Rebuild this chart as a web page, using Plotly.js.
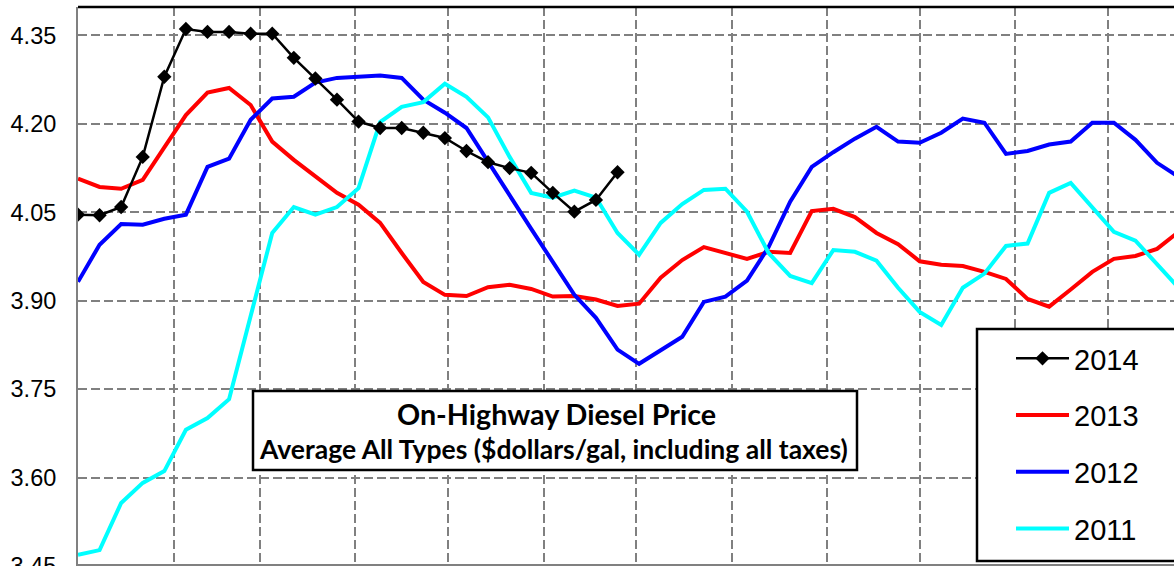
<!DOCTYPE html>
<html>
<head>
<meta charset="utf-8">
<script src="https://cdn.plot.ly/plotly-3.0.1.min.js"></script>
<style>
  html, body { margin: 0; padding: 0; background: #fff; overflow: hidden; }
  #chart { width: 1174px; height: 580px; }
</style>
</head>
<body>
<div id="chart"></div>
<script>
// ---- data (weekly averages, $ per gallon) ----
const seriesNames = ["2014", "2013", "2012", "2011"];
const startDate = "2014-01-01";   // common calendar year used for week positions

const y2014 = [4.046, 4.045, 4.059, 4.144, 4.280, 4.361, 4.356, 4.356, 4.353, 4.353,
               4.312, 4.277, 4.241, 4.204, 4.193, 4.193, 4.185, 4.176, 4.154, 4.135,
               4.125, 4.117, 4.083, 4.051, 4.071, 4.118];

const y2013 = [4.107, 4.093, 4.090, 4.105, 4.160, 4.215, 4.253, 4.261, 4.232, 4.170,
               4.139, 4.110, 4.083, 4.063, 4.032, 3.981, 3.932, 3.910, 3.908, 3.923,
               3.927, 3.920, 3.907, 3.908, 3.902, 3.891, 3.895, 3.939, 3.969, 3.991,
               3.981, 3.971, 3.983, 3.981, 4.052, 4.056, 4.042, 4.015, 3.996, 3.967,
               3.961, 3.959, 3.949, 3.937, 3.903, 3.890, 3.919, 3.949, 3.971, 3.976,
               3.988, 4.017];

const y2012 = [3.932, 3.995, 4.030, 4.029, 4.039, 4.046, 4.127, 4.141, 4.207, 4.243,
               4.246, 4.270, 4.278, 4.280, 4.282, 4.278, 4.241, 4.219, 4.193, 4.136,
               4.078, 4.022, 3.966, 3.910, 3.871, 3.817, 3.793, 3.817, 3.839, 3.898,
               3.907, 3.934, 3.991, 4.068, 4.127, 4.152, 4.175, 4.195, 4.170, 4.168,
               4.185, 4.209, 4.202, 4.149, 4.154, 4.165, 4.170, 4.202, 4.202, 4.173,
               4.134, 4.110];

const y2011 = [3.469, 3.477, 3.557, 3.591, 3.611, 3.681, 3.701, 3.733, 3.874, 4.015,
               4.059, 4.046, 4.059, 4.091, 4.203, 4.229, 4.237, 4.268, 4.246, 4.211,
               4.144, 4.083, 4.075, 4.087, 4.075, 4.015, 3.978, 4.032, 4.064, 4.088,
               4.090, 4.051, 3.981, 3.942, 3.930, 3.986, 3.983, 3.968, 3.922, 3.881,
               3.859, 3.922, 3.946, 3.993, 3.997, 4.083, 4.100, 4.059, 4.017, 4.002,
               3.961, 3.922];

const yTicks = [3.45, 3.60, 3.75, 3.90, 4.05, 4.20, 4.35];
const titleLine1 = "On-Highway Diesel Price";
const titleLine2 = "Average All Types ($dollars/gal, including all taxes)";

// week dates (one point per week from the start of the year)
function weekDates(n) {
  const out = [];
  const base = new Date(startDate + "T00:00:00Z");
  for (let i = 0; i < n; i++) {
    const d = new Date(base.getTime() + i * 7 * 86400000);
    out.push(d.toISOString().slice(0, 10));
  }
  return out;
}

// ---- layout geometry (figure is slightly taller than the window; bottom is cropped) ----
const W = 1174, H = 580;
const M = { l: 78, r: 0, t: 7, b: 12 };
const PW = W - M.l - M.r, PH = H - M.t - M.b;
const px = x => (x - M.l) / PW;          // pixel -> paper x
const py = y => (H - M.b - y) / PH;      // pixel -> paper y

const colors = { "2014": "#000000", "2013": "#FF0000", "2012": "#0000FF", "2011": "#00FFFF" };
const dataMap = { "2014": y2014, "2013": y2013, "2012": y2012, "2011": y2011 };
const rank = { "2014": 1, "2013": 2, "2012": 3, "2011": 4 };
const drawOrder = ["2013", "2012", "2011", "2014"];

const traces = drawOrder.map(name => {
  const ys = dataMap[name];
  const t = {
    type: "scatter",
    mode: name === "2014" ? "lines+markers" : "lines",
    name: name,
    x: weekDates(ys.length),
    y: ys,
    line: { color: colors[name], width: name === "2014" ? 2.5 : 4 },
    legendrank: rank[name],
    legendgroup: name,
    hoverinfo: "x+y+name"
  };
  if (name === "2014") t.marker = { symbol: "diamond", size: 11, color: "#000" };
  return t;
});

const gridStyle = { gridcolor: "#808080", gridwidth: 2, griddash: "9px,4px" };

const layout = {
  width: W, height: H,
  margin: M,
  paper_bgcolor: "#fff",
  plot_bgcolor: "#fff",
  showlegend: true,
  xaxis: Object.assign({
    type: "date",
    range: ["2014-01-01", "2014-12-22 12:00"],
    tick0: "2014-01-01",
    dtick: "M1",
    showticklabels: false,
    ticks: "",
    showgrid: true,
    zeroline: false,
    showline: true,
    linecolor: "#808080",
    linewidth: 2,
    fixedrange: true
  }, gridStyle),
  yaxis: Object.assign({
    range: [3.4466, 4.3983],
    tickvals: yTicks,
    tickformat: ".2f",
    ticks: "",
    ticklabelstandoff: 15,
    tickfont: { family: "Liberation Sans, Arial, sans-serif", size: 23.5, color: "#000" },
    showgrid: true,
    zeroline: false,
    showline: true,
    linecolor: "#808080",
    linewidth: 2,
    fixedrange: true
  }, gridStyle),
  legend: {
    x: px(1011), y: py(333),
    xanchor: "left", yanchor: "top",
    bgcolor: "rgba(0,0,0,0)",
    borderwidth: 0,
    font: { family: "Liberation Sans, Arial, sans-serif", size: 29, color: "#000" },
    traceorder: "grouped",
    tracegroupgap: 16,
    itemwidth: 53
  },
  shapes: [
    // top border
    { type: "line", xref: "paper", yref: "paper", x0: 0, x1: 1, y0: 1, y1: 1,
      line: { color: "#000", width: 2.5 }, layer: "above" },
    // bottom axis line (visible edge of the cropped plot)
    { type: "line", xref: "paper", yref: "paper", x0: 0, x1: 1, y0: py(565), y1: py(565),
      line: { color: "#808080", width: 2 }, layer: "above" },
    // title box
    { type: "rect", xref: "paper", yref: "paper",
      x0: px(253), x1: px(857), y0: py(470), y1: py(391),
      fillcolor: "#fff", line: { color: "#000", width: 2.5 }, layer: "above" },
    // legend box
    { type: "rect", xref: "paper", yref: "paper",
      x0: px(977), x1: px(1190), y0: py(561), y1: py(329),
      fillcolor: "#fff", line: { color: "#000", width: 2.5 }, layer: "above" }
  ],
  annotations: [
    { xref: "paper", yref: "paper", x: px(556), y: py(414), xanchor: "center", yanchor: "middle",
      text: "<b>" + titleLine1 + "</b>", showarrow: false,
      font: { family: "Lato, sans-serif", size: 28.7, color: "#000" } },
    { xref: "paper", yref: "paper", x: px(553), y: py(449), xanchor: "center", yanchor: "middle",
      text: "<b>" + titleLine2 + "</b>", showarrow: false,
      font: { family: "Lato, sans-serif", size: 26.5, color: "#000" } }
  ]
};

Plotly.newPlot("chart", traces, layout, { displayModeBar: false, staticPlot: true });
</script>
</body>
</html>
